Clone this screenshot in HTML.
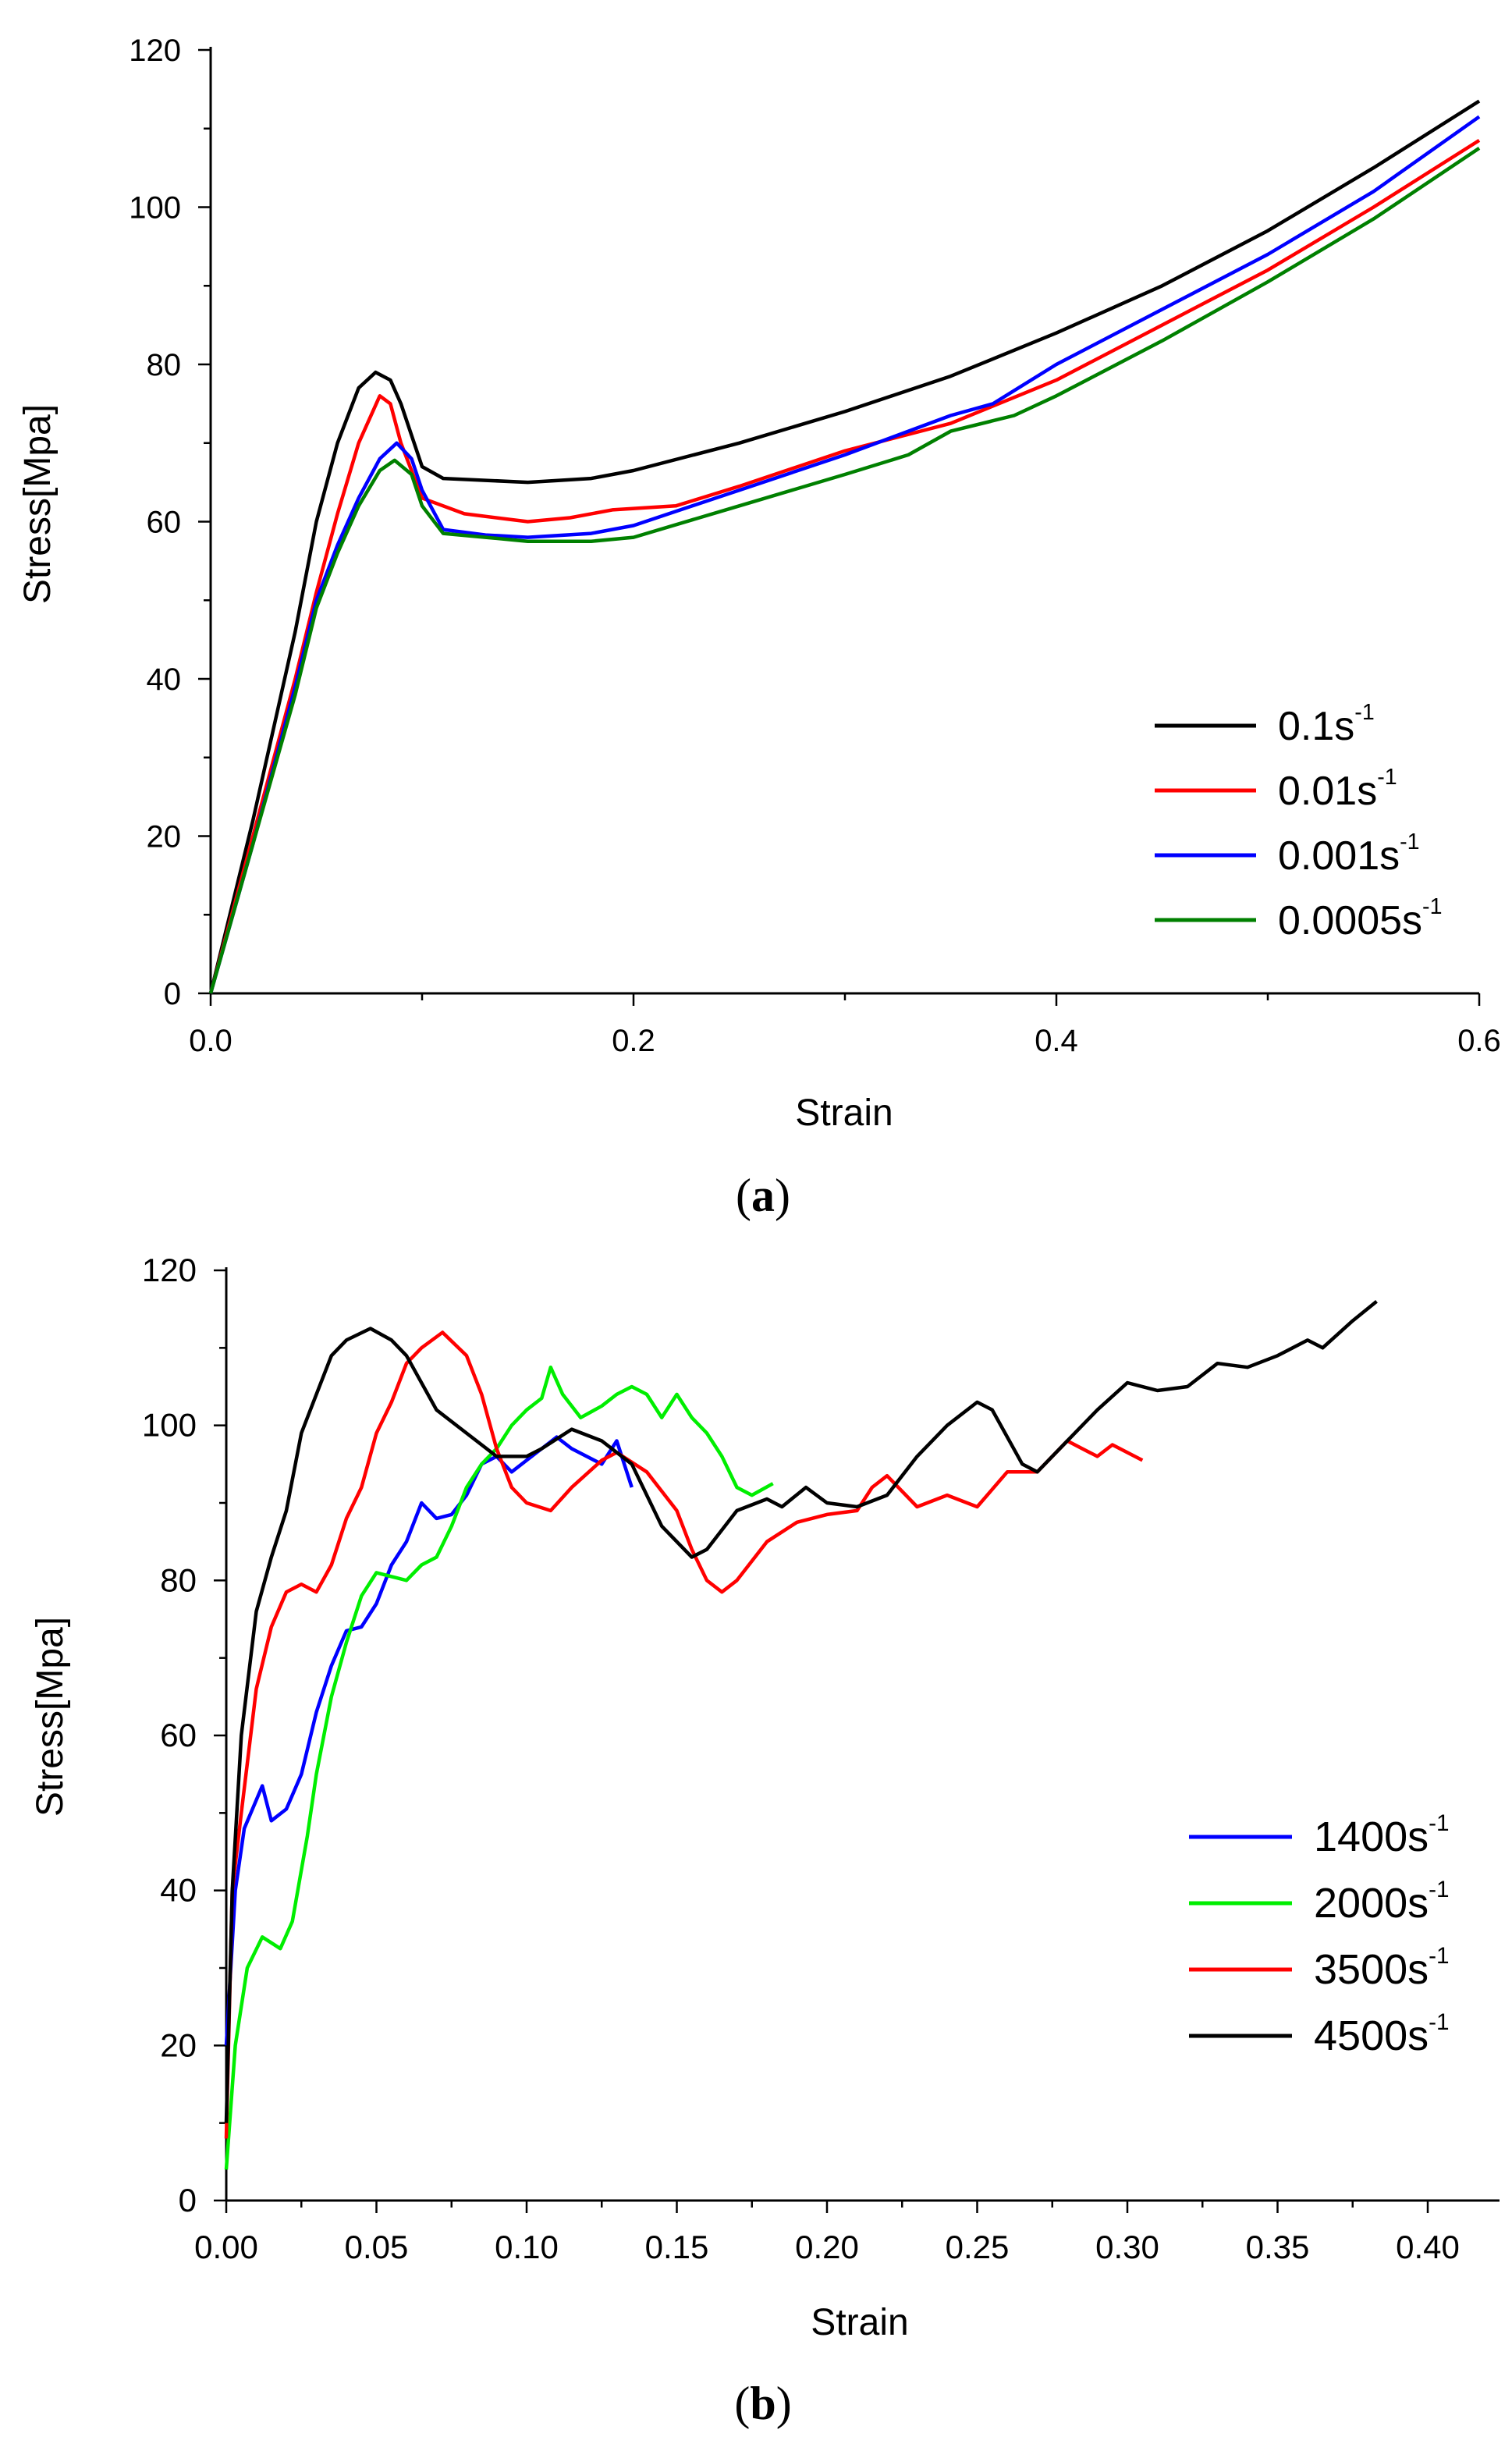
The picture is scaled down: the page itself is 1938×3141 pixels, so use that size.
<!DOCTYPE html>
<html><head><meta charset="utf-8">
<style>
html,body{margin:0;padding:0;background:#fff;}
svg{display:block;font-family:"Liberation Sans",sans-serif;}
</style></head>
<body>
<svg id="fig" width="1938" height="3141" viewBox="0 0 1938 3141" xmlns="http://www.w3.org/2000/svg">
<rect width="1938" height="3141" fill="#fff"/>
<g id="chartA"></g>
<g id="chartB"></g>
</svg>
<script>
// ---- chart (a) data ----
const aSeriesNames = ["0.1", "0.01", "0.001", "0.0005"];
const aColors = ["#000000", "#ff0000", "#0000ff", "#008000"];
const aBlack = [[0,0],[0.02,22],[0.04,46],[0.05,60],[0.06,70],[0.07,77],[0.078,79],[0.085,78],[0.09,75],[0.1,67],[0.11,65.5],[0.15,65],[0.18,65.5],[0.2,66.5],[0.25,70],[0.3,74],[0.35,78.5],[0.4,84],[0.45,90],[0.5,97],[0.55,105],[0.6,113.5]];
const aRed = [[0,0],[0.02,20],[0.04,40],[0.05,51],[0.06,61],[0.07,70],[0.08,76],[0.085,75],[0.09,70],[0.1,63],[0.12,61],[0.15,60],[0.17,60.5],[0.19,61.5],[0.22,62],[0.25,64.5],[0.3,69],[0.35,72.5],[0.4,78],[0.45,85],[0.5,92],[0.55,100],[0.6,108.5]];
const aBlue = [[0,0],[0.02,19],[0.04,39],[0.05,50],[0.06,57],[0.07,63],[0.08,68],[0.088,70],[0.095,68],[0.1,64],[0.11,59],[0.13,58.3],[0.15,58],[0.18,58.5],[0.2,59.5],[0.25,64],[0.3,68.5],[0.35,73.5],[0.37,75],[0.4,80],[0.45,87],[0.5,94],[0.55,102],[0.6,111.5]];
const aGreen = [[0,0],[0.02,19],[0.04,38],[0.05,49],[0.06,56],[0.07,62],[0.08,66.5],[0.087,67.8],[0.095,66],[0.1,62],[0.11,58.5],[0.13,58],[0.15,57.5],[0.18,57.5],[0.2,58],[0.25,62],[0.3,66],[0.33,68.5],[0.35,71.5],[0.38,73.5],[0.4,76],[0.45,83],[0.5,90.5],[0.55,98.5],[0.6,107.5]];
const aXTicks = ["0.0","0.2","0.4","0.6"];
const aYTicks = ["0","20","40","60","80","100","120"];

// ---- chart (b) data ----
const bSeriesNames = ["1400", "2000", "3500", "4500"];
const bColors = ["#0000ff", "#00ee00", "#ff0000", "#000000"];
const bBlue = [[0,20],[0.003,40],[0.006,48],[0.012,53.5],[0.015,49],[0.02,50.5],[0.025,55],[0.03,63],[0.035,69],[0.04,73.5],[0.045,74],[0.05,77],[0.055,82],[0.06,85],[0.065,90],[0.07,88],[0.075,88.5],[0.08,91],[0.085,95],[0.09,96],[0.095,94],[0.1,95.5],[0.105,97],[0.11,98.5],[0.115,97],[0.12,96],[0.125,95],[0.13,98],[0.135,92]];
const bGreen = [[0,4],[0.003,20],[0.007,30],[0.012,34],[0.018,32.5],[0.022,36],[0.027,47],[0.03,55],[0.035,65],[0.04,72],[0.045,78],[0.05,81],[0.055,80.5],[0.06,80],[0.065,82],[0.07,83],[0.075,87],[0.08,92],[0.085,95],[0.09,97],[0.095,100],[0.1,102],[0.105,103.5],[0.108,107.5],[0.112,104],[0.118,101],[0.125,102.5],[0.13,104],[0.135,105],[0.14,104],[0.145,101],[0.15,104],[0.155,101],[0.16,99],[0.165,96],[0.17,92],[0.175,91],[0.182,92.5]];
const bRed = [[0,8],[0.002,40],[0.005,50],[0.01,66],[0.015,74],[0.02,78.5],[0.025,79.5],[0.03,78.5],[0.035,82],[0.04,88],[0.045,92],[0.05,99],[0.055,103],[0.06,108],[0.065,110],[0.072,112],[0.08,109],[0.085,104],[0.09,97],[0.095,92],[0.1,90],[0.108,89],[0.115,92],[0.125,95.5],[0.13,96.5],[0.14,94],[0.15,89],[0.155,84],[0.16,80],[0.165,78.5],[0.17,80],[0.18,85],[0.19,87.5],[0.2,88.5],[0.21,89],[0.215,92],[0.22,93.5],[0.23,89.5],[0.24,91],[0.25,89.5],[0.26,94],[0.27,94],[0.28,98],[0.285,97],[0.29,96],[0.295,97.5],[0.305,95.5]];
const bBlack = [[0,10],[0.002,40],[0.005,60],[0.01,76],[0.015,83],[0.02,89],[0.025,99],[0.03,104],[0.035,109],[0.04,111],[0.048,112.5],[0.055,111],[0.06,109],[0.07,102],[0.08,99],[0.09,96],[0.1,96],[0.105,97],[0.115,99.5],[0.125,98],[0.135,95],[0.145,87],[0.155,83],[0.16,84],[0.17,89],[0.18,90.5],[0.185,89.5],[0.193,92],[0.2,90],[0.21,89.5],[0.22,91],[0.23,96],[0.24,100],[0.25,103],[0.255,102],[0.265,95],[0.27,94],[0.28,98],[0.29,102],[0.3,105.5],[0.31,104.5],[0.32,105],[0.33,108],[0.34,107.5],[0.35,109],[0.36,111],[0.365,110],[0.375,113.5],[0.383,116]];
const bXTicks = ["0.00","0.05","0.10","0.15","0.20","0.25","0.30","0.35","0.40"];
const bYTicks = ["0","20","40","60","80","100","120"];

const NS = "http://www.w3.org/2000/svg";
function mk(parent, tag, attrs, text){
  const e = document.createElementNS(NS, tag);
  for (const k in attrs) e.setAttribute(k, attrs[k]);
  if (text !== undefined) e.textContent = text;
  parent.appendChild(e);
  return e;
}

function drawChart(g, cfg){
  const sx = v => cfg.x0 + (v - cfg.xmin) / (cfg.xmax - cfg.xmin) * (cfg.x1 - cfg.x0);
  const sy = v => cfg.y0 - v / cfg.ymax * (cfg.y0 - cfg.y1);
  const ax = mk(g, "line", {x1:cfg.x0, y1:cfg.y0, x2:cfg.xEnd, y2:cfg.y0, stroke:"#000","stroke-width":3});
  
  
  const ay = mk(g, "line", {x1:cfg.x0, y1:cfg.y0, x2:cfg.x0, y2:cfg.y1-4, stroke:"#000","stroke-width":3});
  
  
  for (let v = 0; v <= cfg.ymax + 1e-9; v += cfg.ymax/12){
    const major = Math.round(v) % 20 === 0;
    mk(g, "line", {x1:cfg.x0 - (major?16:9), y1:sy(v), x2:cfg.x0, y2:sy(v), stroke:"#000","stroke-width":2.5});
  }
  cfg.yTicks.forEach(t => {
    const tx = mk(g, "text", {x:cfg.x0 - 38, y:sy(+t) + 14, "text-anchor":"end", "font-size":cfg.tickFont}, t);
    
    
  });
  const nMinor = Math.round((cfg.xTickEnd - cfg.xmin) / cfg.minorStep);
  for (let i = 0; i <= nMinor; i++){
    const v = cfg.xmin + i * cfg.minorStep;
    const major = i % 2 === 0;
    mk(g, "line", {x1:sx(v), y1:cfg.y0, x2:sx(v), y2:cfg.y0 + (major?16:9), stroke:"#000","stroke-width":2.5});
  }
  cfg.xTicks.forEach(t => {
    const tx = mk(g, "text", {x:sx(+t), y:cfg.y0 + 74, "text-anchor":"middle", "font-size":cfg.tickFont}, t);
    
    
  });
  cfg.series.forEach((s, i) => {
    const d = s.map((p, j) => (j ? "L" : "M") + sx(p[0]).toFixed(1) + " " + sy(p[1]).toFixed(1)).join(" ");
    const p = mk(g, "path", {d:d, fill:"none", stroke:cfg.colors[i], "stroke-width":4.5, "stroke-linejoin":"round"});
    
    
  });
  cfg.names.forEach((n, i) => {
    const y = cfg.legY + i * cfg.legStep;
    const l = mk(g, "line", {x1:cfg.legX, y1:y, x2:cfg.legX + cfg.legLen, y2:y, stroke:cfg.colors[i], "stroke-width":5});
    
    
    const t = mk(g, "text", {x:cfg.legX + cfg.legLen + 28, y:y + 18, "font-size":cfg.legFont}, n + "s");
    
    
    mk(t, "tspan", {dy:-26, "font-size":cfg.legFont*0.55}, "-1");
  });
  const xt = mk(g, "text", {x:cfg.xTitle[0], y:cfg.xTitle[1], "text-anchor":"middle", "font-size":48}, "Strain");
  
  
  const yt = mk(g, "text", {x:0, y:0, "text-anchor":"middle", "font-size":48, transform:"translate(" + cfg.yTitle[0] + "," + cfg.yTitle[1] + ") rotate(-90)"}, "Stress[Mpa]");
  
  
  const cap = mk(g, "text", {x:cfg.cap[0], y:cfg.cap[1], "text-anchor":"middle", "font-size":60, "font-family":"Liberation Serif, serif"}, "");
  
  
  mk(cap, "tspan", {}, "(");
  mk(cap, "tspan", {"font-weight":"bold"}, cfg.capLetter);
  mk(cap, "tspan", {}, ")");
}

drawChart(document.getElementById("chartA"), {
  x0:270, x1:1896, xEnd:1896, xmin:0, xmax:0.6, xTickEnd:0.6, minorStep:0.1,
  y0:1273, y1:64, ymax:120, tickFont:40,
  xTicks:aXTicks, yTicks:aYTicks,
  series:[aBlack, aRed, aBlue, aGreen], colors:aColors, names:aSeriesNames,
  legX:1480, legLen:130, legY:930, legStep:83, legFont:52,
  xTitle:[1082,1442], yTitle:[64,646], cap:[978,1552], capLetter:"a"
});
drawChart(document.getElementById("chartB"), {
  x0:290, x1:1830, xEnd:1922, xmin:0, xmax:0.4, xTickEnd:0.4, minorStep:0.025,
  y0:2820, y1:1628, ymax:120, tickFont:42,
  xTicks:bXTicks, yTicks:bYTicks,
  series:[bBlue, bGreen, bRed, bBlack], colors:bColors, names:bSeriesNames,
  legX:1524, legLen:132, legY:2354, legStep:85, legFont:54,
  xTitle:[1102,2992], yTitle:[80,2200], cap:[978,3100], capLetter:"b"
});
</script>
</body></html>
